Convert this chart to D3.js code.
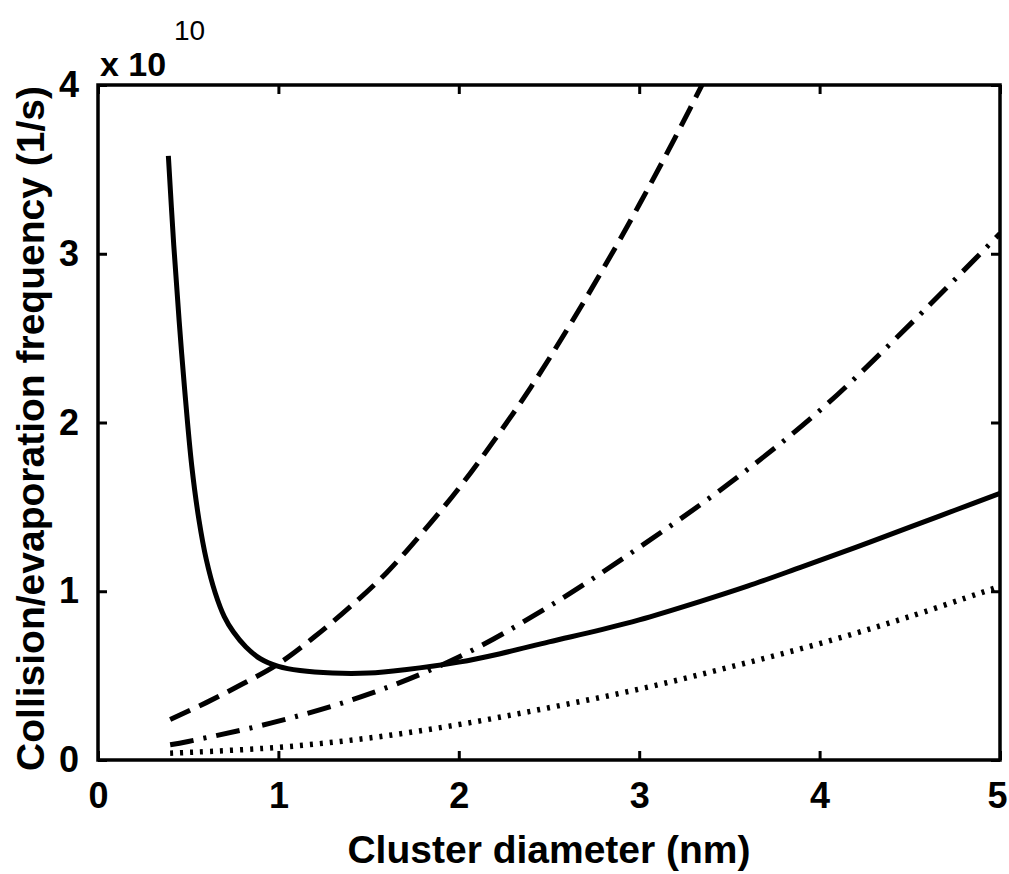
<!DOCTYPE html>
<html>
<head>
<meta charset="utf-8">
<script src="https://cdn.jsdelivr.net/npm/d3@7"></script>
<style>
  body { margin: 0; background: #fff; }
  text { font-family: "Liberation Sans", Arial, sans-serif; font-weight: bold; fill: #000; }
</style>
</head>
<body>
<div id="chart"></div>
<script>
// values in units of 1e10 1/s, diameters in nm
var solidX = [0.39, 0.42, 0.45, 0.48, 0.52, 0.56, 0.60, 0.65, 0.70, 0.75, 0.82, 0.90, 1.0, 1.12, 1.3, 1.5, 1.7, 2.0, 2.23, 2.5, 2.78, 3.0, 3.34, 3.6, 3.89, 4.2, 4.5, 4.75, 5.0];
var solidY = [3.58, 3.05, 2.60, 2.20, 1.74, 1.42, 1.19, 0.99, 0.85, 0.76, 0.67, 0.60, 0.555, 0.53, 0.515, 0.515, 0.535, 0.58, 0.63, 0.70, 0.77, 0.83, 0.94, 1.03, 1.14, 1.26, 1.38, 1.48, 1.58];

var dashX = [0.4, 0.6, 0.8, 1.0, 1.2, 1.4, 1.6, 1.8, 2.0, 2.2, 2.4, 2.6, 2.8, 3.0, 3.2, 3.4];
var dashY = [0.24, 0.34, 0.45, 0.57, 0.73, 0.91, 1.11, 1.35, 1.61, 1.90, 2.21, 2.55, 2.91, 3.29, 3.69, 4.11];

var dashDotX = [0.4, 0.5, 1.0, 1.5, 2.0, 2.5, 3.0, 3.5, 4.0, 4.5, 5.0];
var dashDotY = [0.09, 0.11, 0.23, 0.39, 0.61, 0.91, 1.26, 1.64, 2.07, 2.58, 3.12];

var dotX = [0.4, 1.0, 1.5, 2.0, 2.5, 3.0, 3.5, 4.0, 4.5, 5.0];
var dotY = [0.04, 0.075, 0.13, 0.21, 0.31, 0.42, 0.55, 0.69, 0.85, 1.03];

var xTicks = [0, 1, 2, 3, 4, 5];
var yTicks = [0, 1, 2, 3, 4];

var width = 1009, height = 874;
var margin = {left: 98, right: 9, top: 85, bottom: 114};

var svg = d3.select("#chart").append("svg")
  .attr("width", width)
  .attr("height", height);

var x = d3.scaleLinear().domain([0, 5]).range([margin.left, width - margin.right]);
var y = d3.scaleLinear().domain([0, 4]).range([height - margin.bottom, margin.top]);

svg.append("clipPath").attr("id", "plotclip")
  .append("rect")
  .attr("x", x(0)).attr("y", y(4))
  .attr("width", x(5) - x(0)).attr("height", y(0) - y(4));

function zip(xs, ys) {
  return xs.map(function(d, i) { return [d, ys[i]]; });
}

var line = d3.line()
  .curve(d3.curveCatmullRom.alpha(0.5))
  .x(function(d) { return x(d[0]); })
  .y(function(d) { return y(d[1]); });

var series = [
  {data: zip(solidX, solidY), dash: null, w: 5},
  {data: zip(dashX, dashY), dash: "22 10", w: 5},
  {data: zip(dashDotX, dashDotY), dash: "24 10 3 10", w: 5},
  {data: zip(dotX, dotY), dash: "3 7", w: 5.5}
];

var g = svg.append("g").attr("clip-path", "url(#plotclip)");
g.selectAll("path.curve")
  .data(series)
  .enter().append("path")
  .attr("class", "curve")
  .attr("d", function(d) { return line(d.data); })
  .attr("fill", "none")
  .attr("stroke", "#000")
  .attr("stroke-width", function(d) { return d.w; })
  .attr("stroke-dasharray", function(d) { return d.dash; });

// axes, ticks inward on all four sides
var tickLen = 9;
var fontSize = 36;
var fmt = d3.format("d");

var xBottom = d3.axisBottom(x).tickValues(xTicks).tickFormat(fmt).tickSizeInner(-tickLen).tickSizeOuter(0).tickPadding(22);
var xTop = d3.axisTop(x).tickValues(xTicks).tickSizeInner(-tickLen).tickSizeOuter(0).tickFormat("");
var yLeft = d3.axisLeft(y).tickValues(yTicks).tickFormat(fmt).tickSizeInner(-tickLen).tickSizeOuter(0).tickPadding(19);
var yRight = d3.axisRight(y).tickValues(yTicks).tickSizeInner(-tickLen).tickSizeOuter(0).tickFormat("");

function styleAxis(sel) {
  sel.select(".domain").remove();
  sel.selectAll(".tick line").attr("stroke", "#000").attr("stroke-width", 3);
  sel.selectAll(".tick text")
    .style("font-family", "'Liberation Sans', Arial, sans-serif")
    .style("font-weight", "bold")
    .style("font-size", fontSize + "px")
    .attr("fill", "#000");
}

svg.append("g").attr("transform", "translate(0," + y(0) + ")").call(xBottom).call(styleAxis);
svg.append("g").attr("transform", "translate(0," + y(4) + ")").call(xTop).call(styleAxis);
svg.append("g").attr("transform", "translate(" + x(0) + ",0)").call(yLeft).call(styleAxis);
svg.append("g").attr("transform", "translate(" + x(5) + ",0)").call(yRight).call(styleAxis);

// keep the last x tick label inside the page
svg.selectAll("text").filter(function() { return this.textContent === "5" && +this.parentNode.__data__ === 5; })
  .attr("dx", -3);

svg.append("rect")
  .attr("x", x(0)).attr("y", y(4))
  .attr("width", x(5) - x(0)).attr("height", y(0) - y(4))
  .attr("fill", "none").attr("stroke", "#000").attr("stroke-width", 3.5);

// exponent label
svg.append("text")
  .attr("x", 100).attr("y", 76)
  .style("font-size", "34px")
  .text("x 10");
svg.append("text")
  .attr("x", 174).attr("y", 40)
  .style("font-size", "28px")
  .style("font-weight", "normal")
  .text("10");

svg.append("text")
  .attr("x", (x(0) + x(5)) / 2).attr("y", 863)
  .attr("text-anchor", "middle")
  .style("font-size", "39px")
  .text("Cluster diameter (nm)");

svg.append("text")
  .attr("transform", "translate(44," + ((y(0) + y(4)) / 2 + 6) + ") rotate(-90)")
  .attr("text-anchor", "middle")
  .style("font-size", "39px")
  .text("Collision/evaporation frequency (1/s)");
</script>
</body>
</html>
